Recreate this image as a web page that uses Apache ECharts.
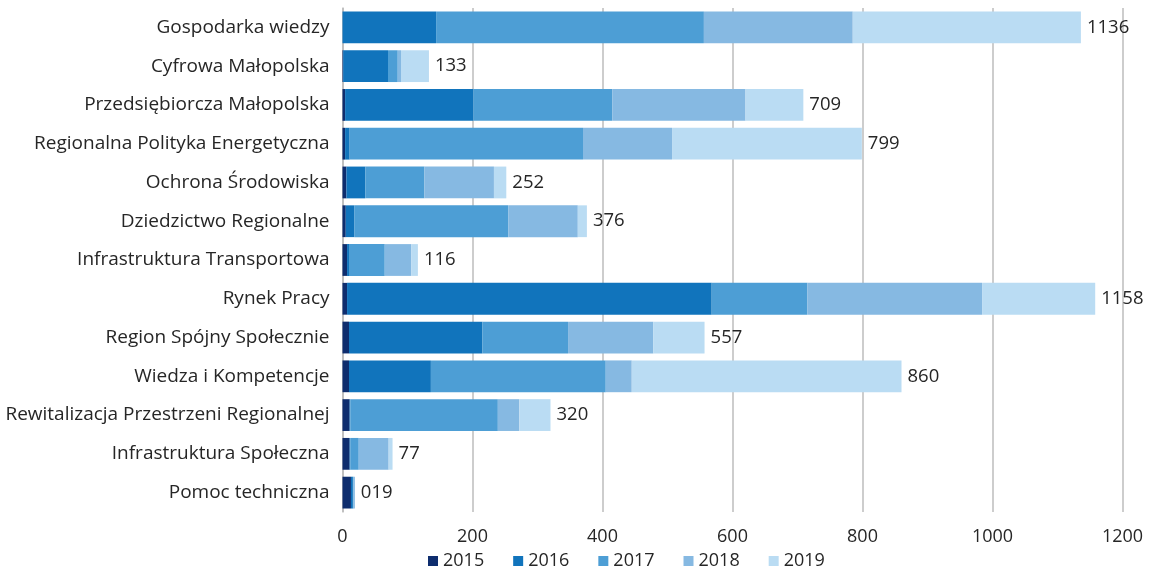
<!DOCTYPE html>
<html>
<head>
<meta charset="utf-8">
<script src="https://cdn.jsdelivr.net/npm/echarts@6/dist/echarts.min.js"></script>
<style>
  html, body { margin: 0; padding: 0; background: #fff; }
  #main { width: 1149px; height: 570px; }
</style>
</head>
<body>
<div id="main"></div>
<script>
// kategorie (od góry)
var categories = [
  'Gospodarka wiedzy', 'Cyfrowa Małopolska', 'Przedsiębiorcza Małopolska',
  'Regionalna Polityka Energetyczna', 'Ochrona Środowiska', 'Dziedzictwo Regionalne',
  'Infrastruktura Transportowa', 'Rynek Pracy', 'Region Spójny Społecznie',
  'Wiedza i Kompetencje', 'Rewitalizacja Przestrzeni Regionalnej',
  'Infrastruktura Społeczna', 'Pomoc techniczna'
];
var years = ['2015', '2016', '2017', '2018', '2019'];

var v2015 = [0, 1, 4, 4, 6, 5, 7, 7, 10, 10, 11, 11, 13];
var v2016 = [144, 69, 197, 7, 29, 13, 3, 561, 205, 126, 1, 1, 3];
var v2017 = [412, 15, 214, 359, 91, 237, 55, 147, 132, 269, 227, 13, 1];
var v2018 = [229, 5, 205, 137, 107, 107, 41, 269, 131, 40, 33, 46, 2];
var v2019 = [351, 43, 89, 292, 19, 14, 10, 174, 79, 415, 48, 6, 0];

// etykiety sum jak na oryginale
var totalLabels = ['1136', '133', '709', '799', '252', '376', '116', '1158', '557', '860', '320', '77', '019'];

var colors = ['#0E2D6E', '#1174BC', '#4D9ED5', '#86B9E2', '#BADCF3'];

var font = 'Open Sans';
var chart = echarts.init(document.getElementById('main'));

var allValues = [v2015, v2016, v2017, v2018, v2019];
var series = years.map(function (y, i) {
  var s = {
    name: y,
    type: 'bar',
    stack: 'total',
    barCategoryGap: '18%',
    itemStyle: { color: colors[i] },
    emphasis: { disabled: true },
    data: allValues[i]
  };
  if (i === years.length - 1) {
    s.label = {
      show: true,
      position: 'right',
      distance: 6,
      color: '#262626',
      fontFamily: font,
      fontSize: 18.5,
      formatter: function (p) { return totalLabels[p.dataIndex]; }
    };
  }
  return s;
});

var option = {
  animation: false,
  textStyle: { fontFamily: font },
  grid: { left: 342.5, right: 26.5, top: 8, bottom: 58, containLabel: false },
  legend: {
    data: years,
    left: 423,
    top: 547,
    icon: 'rect',
    itemWidth: 10,
    itemHeight: 10,
    itemGap: 29,
    textStyle: { fontFamily: font, fontSize: 18, color: '#262626' }
  },
  xAxis: {
    type: 'value',
    min: 0,
    max: 1200,
    interval: 200,
    axisLine: { show: false },
    axisTick: { show: false },
    axisLabel: {
      margin: 16,
      fontFamily: font,
      fontSize: 18,
      color: '#262626',
      formatter: function (v) { return String(v); }
    },
    splitLine: { lineStyle: { color: '#BDBDBD', width: 1.5 } }
  },
  yAxis: {
    type: 'category',
    inverse: true,
    data: categories,
    axisLine: { show: true, lineStyle: { color: '#BDBDBD', width: 1.5 } },
    axisTick: { show: false },
    axisLabel: { margin: 13, fontFamily: font, fontSize: 19, color: '#262626' }
  },
  series: series
};
chart.setOption(option);
</script>
</body>
</html>
